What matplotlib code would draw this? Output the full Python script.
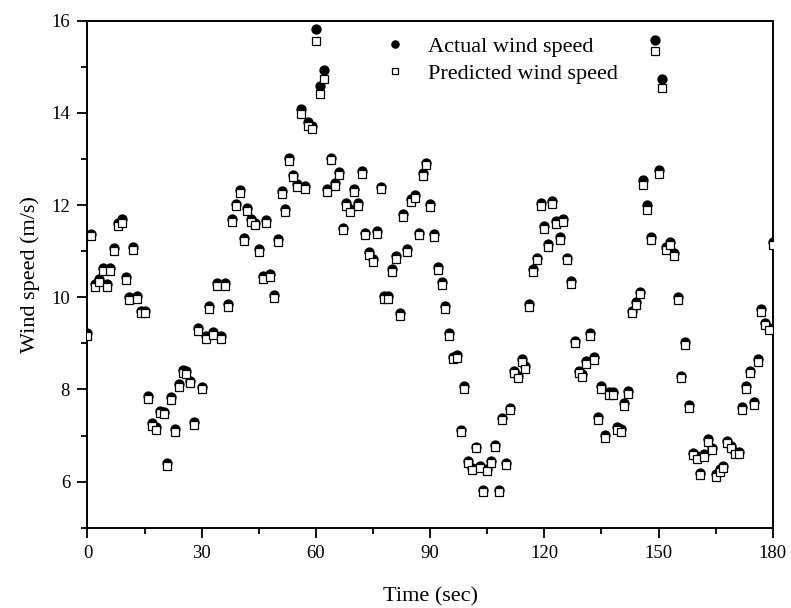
import matplotlib.pyplot as plt
from matplotlib.ticker import MultipleLocator

plt.rcParams['font.family'] = ['Liberation Serif', 'DejaVu Serif']

# time in seconds, one sample per second
time_sec = list(range(0, 181))

actual_speed = [
    9.22, 11.38, 10.28, 10.40, 10.64, 10.28, 10.63, 11.06, 11.62, 11.69,
    10.43, 10.01, 11.08, 10.03, 9.71, 9.71, 7.86, 7.27, 7.18, 7.54,
    7.52, 6.40, 7.83, 7.14, 8.11, 8.42, 8.39, 8.19, 7.29, 9.33,
    8.06, 9.16, 9.81, 9.24, 10.31, 9.16, 10.31, 9.85, 11.69, 12.03,
    12.32, 11.29, 11.94, 11.69, 11.62, 11.04, 10.46, 11.68, 10.50, 10.04,
    11.26, 12.31, 11.92, 13.02, 12.66, 12.45, 14.09, 12.41, 13.80, 13.72,
    15.83, 14.58, 14.92, 12.34, 13.03, 12.48, 12.71, 11.51, 12.04, 11.91,
    12.34, 12.04, 12.74, 11.40, 10.98, 10.82, 11.44, 12.40, 10.03, 10.03,
    10.61, 10.90, 9.65, 11.80, 11.05, 12.13, 12.22, 11.40, 12.70, 12.92,
    12.02, 11.37, 10.66, 10.33, 9.81, 9.22, 8.71, 8.75, 7.13, 8.07,
    6.45, 6.29, 6.76, 6.33, 5.81, 6.27, 6.44, 6.79, 5.81, 7.39,
    6.40, 7.60, 8.40, 8.29, 8.65, 8.50, 9.85, 10.61, 10.86, 12.05,
    11.55, 11.16, 12.09, 11.66, 11.31, 11.69, 10.86, 10.35, 9.06, 8.41,
    8.33, 8.62, 9.22, 8.70, 7.40, 8.08, 7.01, 7.94, 7.94, 7.18,
    7.14, 7.71, 7.97, 9.71, 9.89, 10.12, 12.55, 12.00, 11.31, 15.58,
    12.75, 14.74, 11.08, 11.19, 10.96, 10.00, 8.30, 9.02, 7.66, 6.63,
    6.55, 6.19, 6.59, 6.92, 6.74, 6.16, 6.27, 6.34, 6.88, 6.77,
    6.65, 6.64, 7.61, 8.08, 8.41, 7.72, 8.66, 9.74, 9.45, 9.34,
    11.19,
]

predicted_speed = [
    9.15, 11.32, 10.22, 10.33, 10.58, 10.22, 10.57, 11.00, 11.55, 11.62,
    10.37, 9.95, 11.02, 9.97, 9.65, 9.65, 7.80, 7.21, 7.12, 7.48,
    7.46, 6.34, 7.77, 7.08, 8.05, 8.36, 8.33, 8.13, 7.23, 9.27,
    8.00, 9.10, 9.75, 9.18, 10.25, 9.10, 10.25, 9.79, 11.63, 11.97,
    12.26, 11.23, 11.88, 11.63, 11.56, 10.98, 10.40, 11.62, 10.44, 9.98,
    11.20, 12.25, 11.86, 12.95, 12.60, 12.39, 13.98, 12.35, 13.72, 13.64,
    15.55, 14.41, 14.74, 12.28, 12.97, 12.42, 12.65, 11.45, 11.98, 11.85,
    12.28, 11.98, 12.68, 11.34, 10.92, 10.76, 11.38, 12.34, 9.97, 9.97,
    10.55, 10.84, 9.59, 11.74, 10.99, 12.07, 12.16, 11.34, 12.64, 12.86,
    11.96, 11.31, 10.60, 10.27, 9.75, 9.16, 8.65, 8.69, 7.08, 8.02,
    6.40, 6.25, 6.72, 6.29, 5.78, 6.23, 6.40, 6.75, 5.78, 7.34,
    6.36, 7.55, 8.35, 8.24, 8.60, 8.45, 9.79, 10.55, 10.80, 11.99,
    11.49, 11.10, 12.03, 11.60, 11.25, 11.63, 10.80, 10.29, 9.00, 8.35,
    8.27, 8.56, 9.16, 8.64, 7.34, 8.02, 6.95, 7.88, 7.88, 7.12,
    7.08, 7.65, 7.91, 9.65, 9.83, 10.06, 12.43, 11.90, 11.25, 15.35,
    12.68, 14.53, 11.02, 11.13, 10.90, 9.94, 8.24, 8.96, 7.60, 6.58,
    6.50, 6.14, 6.54, 6.87, 6.69, 6.11, 6.22, 6.29, 6.83, 6.72,
    6.60, 6.59, 7.55, 8.02, 8.35, 7.66, 8.60, 9.68, 9.39, 9.28,
    11.13,
]

fig, ax = plt.subplots(figsize=(7.91, 6.08), dpi=100)
fig.subplots_adjust(left=0.1106, right=0.977, top=0.966, bottom=0.132)

ax.plot(time_sec, actual_speed, linestyle='none', marker='o', ms=6.4,
        color='black', label='Actual wind speed', zorder=3)
ax.plot(time_sec, predicted_speed, linestyle='none', marker='s', ms=5.6,
        mfc='white', mec='black', mew=0.9, label='Predicted wind speed', zorder=4)

ax.set_xlim(0, 180)
ax.set_ylim(5, 16)
ax.xaxis.set_major_locator(MultipleLocator(30))
ax.xaxis.set_minor_locator(MultipleLocator(15))
ax.yaxis.set_major_locator(MultipleLocator(2))
ax.yaxis.set_minor_locator(MultipleLocator(1))
ax.tick_params(which='both', direction='out', top=False, right=False,
               labelsize=13.5, width=1.3, pad=5)
ax.tick_params(which='major', length=7.5)
ax.tick_params(which='minor', length=4.5)
for sp in ax.spines.values():
    sp.set_linewidth(1.4)

ax.set_xlabel('Time (sec)', fontsize=16, labelpad=18)
ax.set_ylabel('Wind speed (m/s)', fontsize=16, labelpad=8)

ax.legend(loc='upper left', bbox_to_anchor=(0.41, 1.0), frameon=False,
          fontsize=16, handlelength=1.0, handletextpad=1.0, labelspacing=0.3,
          markerscale=0.8, borderaxespad=0.3)

fig.savefig('out.png', dpi=100)
